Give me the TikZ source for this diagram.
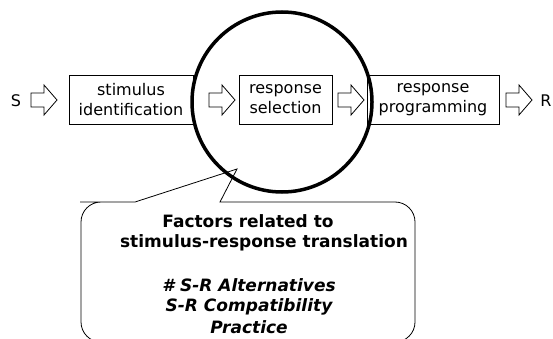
\documentclass[tikz,border=0pt]{standalone}
\usepackage{fontspec}
\setmainfont{DejaVu Sans}
\begin{document}
\begin{tikzpicture}[x=1pt,y=-1pt,
  procbox/.style={draw,line width=0.8pt,inner sep=0pt,minimum height=49pt,align=center,
    font=\fontsize{16}{20}\selectfont},
  letter/.style={inner sep=0pt,font=\fontsize{16}{20}\selectfont},
  blockarrow/.pic={\draw[line width=0.8pt,line join=miter]
     (0,-7) -- (13,-7) -- (13,-15) -- (26,0) -- (13,15) -- (13,7) -- (0,7) -- cycle;},
  calltext/.style={anchor=base,inner sep=0pt,font=\fontsize{17}{20}\selectfont\bfseries},
  callitem/.style={calltext,font=\fontsize{17}{20}\selectfont\bfseries\itshape}
]
\useasboundingbox (0,0) rectangle (553,339);
\clip (0,0) rectangle (553,339);
\fill[white] (0,0) rectangle (553,339);

% boxes
\node[procbox,minimum width=124pt] (stim) at (131,99.5) {stimulus\\identification};
\node[procbox,minimum width=93pt] (sel) at (285.5,99.5) {response\\selection};
\node[procbox,minimum width=132pt] (prog) at (433,99.5) {response\\programming};

\node[letter] (S) at (16,101) {S};
\node[letter] (R) at (546,101) {R};

% block arrows
\pic at (31,100) {blockarrow};
\pic at (209,100) {blockarrow};
\pic at (338,100) {blockarrow};
\pic at (506,100) {blockarrow};

% big circle
\node[draw,circle,line width=3.5pt,minimum size=180pt,inner sep=0pt] (ring) at (282,102) {};

% callout
\coordinate (tip) at (237,169);
\draw[line width=0.8pt] (135,202) -- (tip) -- (220,202) -- (300,202)
  [rounded corners=20pt] -- (415,202) -- (415,342) -- (81,342) -- (81,202) -- (100,202)
  [sharp corners] -- cycle;

\node[calltext] (f1) at (248,227) {Factors related to};
\node[calltext] (f2) at (264,247) {stimulus-response translation};
\node[callitem] (f3) at (249,291) {\# S-R Alternatives};
\node[callitem] (f4) at (249,311) {S-R Compatibility};
\node[callitem] (f5) at (249,333) {Practice};
\end{tikzpicture}
\end{document}
